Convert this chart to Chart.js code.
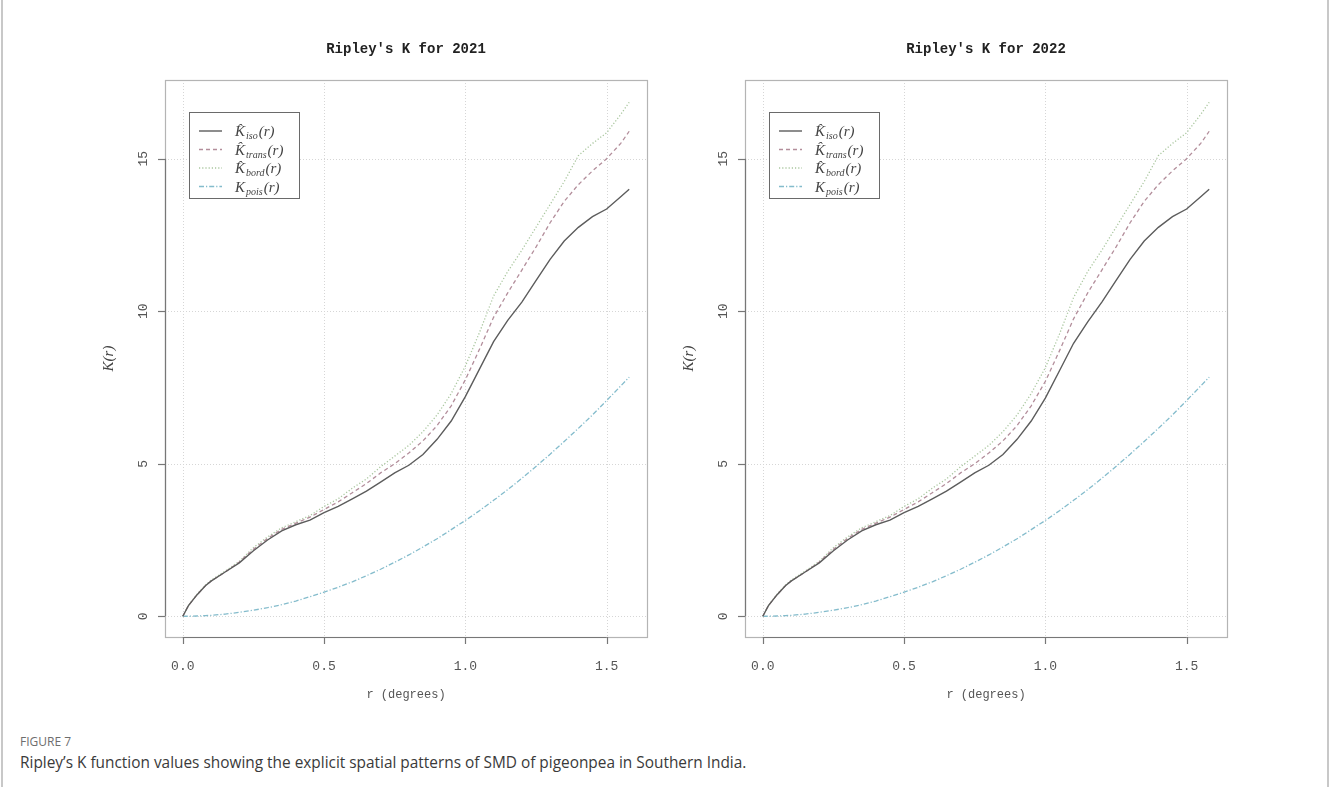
<!DOCTYPE html>
<html>
<head>
<meta charset="utf-8">
<script src="https://cdn.jsdelivr.net/npm/chart.js@4.4.1/dist/chart.umd.min.js"></script>
<style>
  body { margin: 0; background: #fff; width: 1331px; height: 787px; overflow: hidden; position: relative; font-family: "Open Sans", sans-serif; }
  .frame { position: absolute; top: 0; bottom: 0; width: 2px; background: #c8c8c8; }
  .panel { position: absolute; top: 0; width: 666px; height: 720px; }
  #figLabel { position: absolute; left: 20px; top: 733px; font-size: 12px; color: #6d6d6d; }
  #figText { position: absolute; left: 20px; top: 752px; font-size: 15.4px; color: #3a3a3a; }
</style>
</head>
<body>
<div class="frame" style="left:1px"></div>
<div class="frame" style="left:1327px"></div>
<div class="panel" style="left:0"><canvas id="k2021"></canvas></div>
<div class="panel" style="left:580px"><canvas id="k2022"></canvas></div>
<div id="figLabel">FIGURE 7</div>
<div id="figText">Ripley’s K function values showing the explicit spatial patterns of SMD of pigeonpea in Southern India.</div>

<script>
// distance r (degrees)
const rValues = [0, 0.02, 0.05, 0.08, 0.1, 0.15, 0.2, 0.25, 0.3, 0.35, 0.4, 0.45, 0.5, 0.55, 0.6, 0.65, 0.7, 0.75, 0.8, 0.85,
                 0.9, 0.95, 1.0, 1.05, 1.1, 1.15, 1.2, 1.25, 1.3, 1.35, 1.4, 1.45, 1.5, 1.55, 1.58];

// 2021
const iso2021 = [0, 0.35, 0.7, 1.0, 1.15, 1.45, 1.75, 2.15, 2.5, 2.8, 3.0, 3.15, 3.4, 3.6, 3.85, 4.1, 4.4, 4.7, 4.95, 5.3,
                 5.8, 6.4, 7.2, 8.1, 9.0, 9.7, 10.3, 11.0, 11.7, 12.3, 12.75, 13.1, 13.35, 13.75, 14.0];
const trans2021 = [0, 0.35, 0.7, 1.0, 1.15, 1.45, 1.78, 2.2, 2.55, 2.85, 3.05, 3.25, 3.5, 3.75, 4.05, 4.35, 4.7, 5.0, 5.35, 5.75,
                   6.25, 6.9, 7.75, 8.75, 9.8, 10.6, 11.35, 12.1, 12.9, 13.6, 14.15, 14.6, 15.0, 15.5, 15.9];
const bord2021 = [0, 0.35, 0.72, 1.02, 1.18, 1.48, 1.8, 2.25, 2.6, 2.9, 3.1, 3.3, 3.6, 3.85, 4.2, 4.5, 4.9, 5.25, 5.6, 6.05,
                  6.6, 7.3, 8.2, 9.3, 10.5, 11.3, 12.0, 12.75, 13.5, 14.25, 15.1, 15.5, 15.85, 16.45, 16.85];

// 2022
const iso2022 = [0, 0.35, 0.7, 1.0, 1.15, 1.45, 1.75, 2.15, 2.5, 2.8, 3.0, 3.15, 3.4, 3.6, 3.85, 4.1, 4.4, 4.7, 4.95, 5.3,
                 5.8, 6.4, 7.15, 8.05, 8.95, 9.65, 10.3, 11.0, 11.7, 12.3, 12.75, 13.1, 13.35, 13.75, 14.0];
const trans2022 = [0, 0.35, 0.7, 1.0, 1.15, 1.45, 1.78, 2.2, 2.55, 2.85, 3.05, 3.25, 3.5, 3.75, 4.05, 4.35, 4.7, 5.0, 5.35, 5.75,
                   6.25, 6.9, 7.7, 8.7, 9.75, 10.6, 11.35, 12.1, 12.9, 13.6, 14.15, 14.6, 15.0, 15.5, 15.9];
const bord2022 = [0, 0.35, 0.72, 1.02, 1.18, 1.48, 1.8, 2.25, 2.6, 2.9, 3.1, 3.3, 3.6, 3.85, 4.2, 4.5, 4.9, 5.25, 5.6, 6.05,
                  6.6, 7.3, 8.15, 9.25, 10.45, 11.3, 12.0, 12.75, 13.5, 14.25, 15.1, 15.5, 15.85, 16.45, 16.85];

// poisson reference (same for both years)
const pois = [0, 0.001, 0.008, 0.02, 0.03, 0.07, 0.13, 0.2, 0.28, 0.38, 0.5, 0.64, 0.79, 0.95, 1.13, 1.33, 1.54, 1.77, 2.01, 2.27,
              2.54, 2.84, 3.14, 3.46, 3.8, 4.15, 4.52, 4.91, 5.31, 5.73, 6.16, 6.6, 7.07, 7.55, 7.84];

const xTicks = [0, 0.5, 1.0, 1.5];
const yTicks = [0, 5, 10, 15];
const legendNames = [['K\u0302', 'iso'], ['K\u0302', 'trans'], ['K\u0302', 'bord'], ['K', 'pois']];

const X_MIN = -0.063, X_MAX = 1.643;
const Y_MIN = -0.68, Y_MAX = 17.58;

const MONO = '"Liberation Mono", "DejaVu Sans Mono", monospace';
const SERIF = '"Liberation Serif", "DejaVu Serif", serif';

function toPoints(values) {
    return rValues.map((r, i) => ({ x: r, y: values[i] }));
}

// R-like decorations: dotted grid, box, outward ticks, rotated y labels, legend
const rPanelPlugin = {
    id: 'rPanel',
    beforeDatasetsDraw(chart) {
        const { ctx, chartArea: a, scales: { x, y } } = chart;
        ctx.save();
        ctx.strokeStyle = '#d6d6d6';
        ctx.lineWidth = 1;
        ctx.setLineDash([1, 2]);
        xTicks.forEach(v => {
            const px = Math.round(x.getPixelForValue(v)) + 0.5;
            ctx.beginPath(); ctx.moveTo(px, a.top); ctx.lineTo(px, a.bottom); ctx.stroke();
        });
        yTicks.forEach(v => {
            const py = Math.round(y.getPixelForValue(v)) + 0.5;
            ctx.beginPath(); ctx.moveTo(a.left, py); ctx.lineTo(a.right, py); ctx.stroke();
        });
        ctx.restore();
    },
    afterDraw(chart, args, opts) {
        const { ctx, chartArea: a, scales: { x, y } } = chart;
        ctx.save();

        // box
        ctx.strokeStyle = '#b4b4b4';
        ctx.lineWidth = 1.2;
        ctx.strokeRect(a.left + 0.5, a.top + 0.5, a.right - a.left, a.bottom - a.top);

        // axes
        ctx.strokeStyle = '#777';
        ctx.lineWidth = 1.2;
        const x0 = x.getPixelForValue(xTicks[0]), x1 = x.getPixelForValue(xTicks[xTicks.length - 1]);
        ctx.beginPath(); ctx.moveTo(x0, a.bottom + 0.5); ctx.lineTo(x1, a.bottom + 0.5); ctx.stroke();
        xTicks.forEach(v => {
            const px = Math.round(x.getPixelForValue(v)) + 0.5;
            ctx.beginPath(); ctx.moveTo(px, a.bottom); ctx.lineTo(px, a.bottom + 7); ctx.stroke();
        });
        const y0 = y.getPixelForValue(yTicks[0]), y1 = y.getPixelForValue(yTicks[yTicks.length - 1]);
        ctx.beginPath(); ctx.moveTo(a.left + 0.5, y0); ctx.lineTo(a.left + 0.5, y1); ctx.stroke();
        yTicks.forEach(v => {
            const py = Math.round(y.getPixelForValue(v)) + 0.5;
            ctx.beginPath(); ctx.moveTo(a.left, py); ctx.lineTo(a.left - 7, py); ctx.stroke();
        });

        // y tick labels, rotated like R
        ctx.fillStyle = '#555';
        ctx.font = '13px ' + MONO;
        ctx.textAlign = 'center';
        ctx.textBaseline = 'middle';
        yTicks.forEach(v => {
            ctx.save();
            ctx.translate(a.left - 21, y.getPixelForValue(v));
            ctx.rotate(-Math.PI / 2);
            ctx.fillText(String(v), 0, 0);
            ctx.restore();
        });

        // axis titles
        const cx = (a.left + a.right) / 2;
        ctx.font = '12px ' + MONO;
        ctx.fillText('r (degrees)', cx, a.bottom + 58);
        ctx.save();
        ctx.translate(a.left - 56, (a.top + a.bottom) / 2);
        ctx.rotate(-Math.PI / 2);
        ctx.font = 'italic 15px ' + SERIF;
        ctx.fillStyle = '#444';
        ctx.fillText('K(r)', 0, 0);
        ctx.restore();

        // main title
        ctx.fillStyle = '#222';
        ctx.font = 'bold 14px ' + MONO;
        ctx.fillText(opts.title, cx, a.top - 31);

        // legend
        const lx = a.left + 24, ly = a.top + 32, lw = 110, lh = 86;
        ctx.fillStyle = '#fff';
        ctx.fillRect(lx, ly, lw, lh);
        ctx.strokeStyle = '#6a6a6a';
        ctx.lineWidth = 1;
        ctx.strokeRect(lx + 0.5, ly + 0.5, lw, lh);
        chart.data.datasets.forEach((ds, i) => {
            const ry = ly + 19 + i * 18.5;
            ctx.strokeStyle = ds.borderColor;
            ctx.lineWidth = ds.borderWidth;
            ctx.setLineDash(ds.borderDash || []);
            ctx.beginPath(); ctx.moveTo(lx + 10, ry); ctx.lineTo(lx + 33, ry); ctx.stroke();
            ctx.setLineDash([]);
            const [main, sub] = legendNames[i];
            ctx.fillStyle = '#444';
            ctx.textAlign = 'left';
            ctx.textBaseline = 'alphabetic';
            let tx = lx + 46;
            ctx.font = 'italic 15px ' + SERIF;
            ctx.fillText(main, tx, ry + 5);
            tx += ctx.measureText('K').width + 1;
            ctx.font = 'italic 10px ' + SERIF;
            ctx.fillText(sub, tx, ry + 8);
            tx += ctx.measureText(sub).width + 1;
            ctx.font = 'italic 15px ' + SERIF;
            ctx.fillText('(r)', tx, ry + 5);
        });

        ctx.restore();
    }
};

function makePanel(canvasId, title, iso, trans, bord) {
    const ctx = document.getElementById(canvasId).getContext('2d');
    return new Chart(ctx, {
        type: 'line',
        data: {
            datasets: [
                { label: 'iso', data: toPoints(iso), borderColor: '#5c5c5c', borderWidth: 1.4, borderDash: [] },
                { label: 'trans', data: toPoints(trans), borderColor: '#b38e9b', borderWidth: 1.3, borderDash: [4, 3] },
                { label: 'bord', data: toPoints(bord), borderColor: '#a9c69e', borderWidth: 1.3, borderDash: [1.2, 2] },
                { label: 'pois', data: toPoints(pois), borderColor: '#84bccc', borderWidth: 1.3, borderDash: [5, 2, 1.2, 2] }
            ]
        },
        options: {
            responsive: true,
            maintainAspectRatio: false,
            animation: false,
            devicePixelRatio: 1,
            parsing: false,
            elements: { point: { radius: 0 }, line: { tension: 0, fill: false } },
            layout: { padding: { top: 80, right: 19, left: 0, bottom: 0 } },
            scales: {
                x: {
                    type: 'linear',
                    min: X_MIN,
                    max: X_MAX,
                    grid: { display: false, drawTicks: false },
                    border: { display: false },
                    ticks: {
                        font: { family: MONO, size: 13 },
                        color: '#555',
                        padding: 22,
                        maxRotation: 0,
                        callback: v => Number(v).toFixed(1)
                    },
                    afterBuildTicks: s => { s.ticks = xTicks.map(v => ({ value: v })); },
                    afterFit: s => { s.height = 83; }
                },
                y: {
                    type: 'linear',
                    min: Y_MIN,
                    max: Y_MAX,
                    grid: { display: false, drawTicks: false },
                    border: { display: false },
                    ticks: { display: false },
                    afterBuildTicks: s => { s.ticks = yTicks.map(v => ({ value: v })); },
                    afterFit: s => { s.width = 165; }
                }
            },
            plugins: {
                legend: { display: false },
                tooltip: { enabled: false },
                rPanel: { title: title }
            }
        },
        plugins: [rPanelPlugin]
    });
}

makePanel('k2021', "Ripley's K for 2021", iso2021, trans2021, bord2021);
makePanel('k2022', "Ripley's K for 2022", iso2022, trans2022, bord2022);
</script>
</body>
</html>
